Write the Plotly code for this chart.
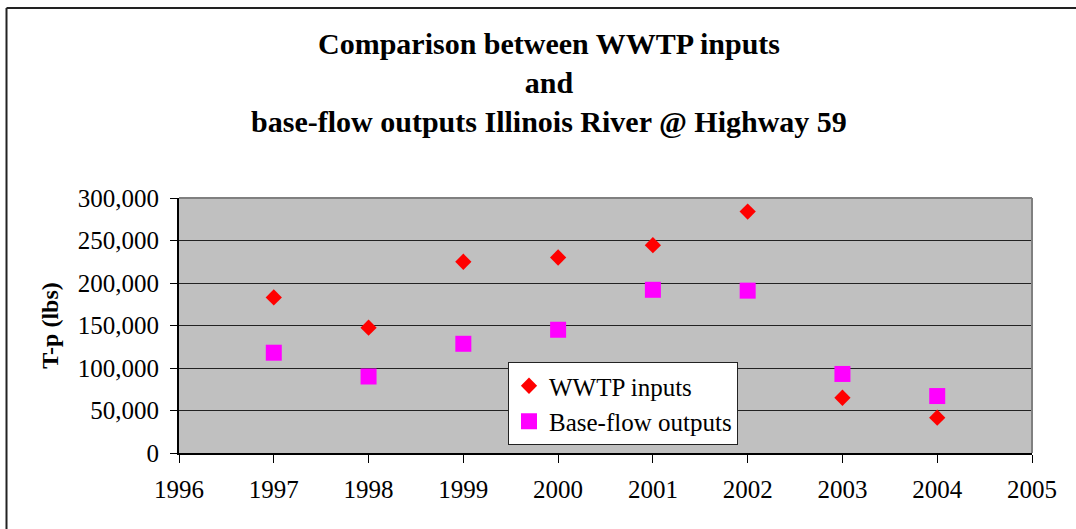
import plotly.graph_objects as go

years = [1997, 1998, 1999, 2000, 2001, 2002, 2003, 2004]
wwtp_inputs = [183000, 147500, 225000, 230000, 244500, 284000, 65000, 41500]
baseflow_outputs = [118000, 90000, 128500, 145000, 192000, 191000, 93000, 67000]
x_ticks = list(range(1996, 2006))
y_ticks = [0, 50000, 100000, 150000, 200000, 250000, 300000]
y_tick_labels = ["0", "50,000", "100,000", "150,000", "200,000", "250,000", "300,000"]

W, H = 1076, 529
L, R, T, B = 179, 1032, 198, 453

FONT = "Liberation Serif, Times New Roman, serif"

fig = go.Figure()
fig.add_trace(go.Scatter(
    x=years, y=wwtp_inputs, mode="markers", name="WWTP inputs",
    marker=dict(symbol="diamond", size=12.5, color="#FF0000", line=dict(width=0)),
))
fig.add_trace(go.Scatter(
    x=years, y=baseflow_outputs, mode="markers", name="Base-flow outputs",
    marker=dict(symbol="square", size=16, color="#FF00FF", line=dict(width=0)),
))

def px_x(p):
    return (p - L) / (R - L)

def px_y(p):
    return (B - p) / (B - T)

# outer chart-area border (top and left visible)
fig.add_shape(type="line", xref="paper", yref="paper",
              x0=px_x(6.5), x1=px_x(1080), y0=px_y(8), y1=px_y(8),
              line=dict(color="#222222", width=2), layer="above")
fig.add_shape(type="line", xref="paper", yref="paper",
              x0=px_x(6.5), x1=px_x(6.5), y0=px_y(8), y1=px_y(535),
              line=dict(color="#222222", width=2), layer="above")
# plot area gray border (top and right)
fig.add_shape(type="line", xref="paper", yref="paper",
              x0=0, x1=1, y0=1, y1=1,
              line=dict(color="#808080", width=2), layer="above")
fig.add_shape(type="line", xref="paper", yref="paper",
              x0=1, x1=1, y0=0, y1=1,
              line=dict(color="#808080", width=2), layer="above")

fig.update_layout(
    width=W, height=H, autosize=False,
    margin=dict(l=L, r=W - R, t=T, b=H - B, pad=0),
    paper_bgcolor="white",
    plot_bgcolor="#C0C0C0",
    font=dict(family=FONT, size=24, color="black"),
    title=dict(
        text="<b>Comparison between WWTP inputs<br>and<br>base-flow outputs Illinois River @ Highway 59</b>",
        x=549 / W, xref="container", xanchor="center",
        y=1 - 54 / H, yref="container", yanchor="top",
        font=dict(family=FONT, size=30, color="black"),
    ),
    showlegend=True,
    legend=dict(
        x=px_x(508), y=px_y(362), xanchor="left", yanchor="top",
        bgcolor="white", bordercolor="#222222", borderwidth=1,
        font=dict(family=FONT, size=25, color="black"),
        itemwidth=30, tracegroupgap=0,
    ),
    xaxis=dict(
        range=[1996, 2005], tickmode="array", tickvals=x_ticks,
        ticks="outside", ticklen=8, tickcolor="black", tickwidth=1,
        showline=True, linecolor="black", linewidth=2,
        showgrid=False, zeroline=False,
        ticklabelstandoff=5,
        tickfont=dict(family=FONT, size=25, color="black"),
    ),
    yaxis=dict(
        range=[0, 300000], tickmode="array", tickvals=y_ticks, ticktext=y_tick_labels,
        ticks="outside", ticklen=7, tickcolor="black", tickwidth=1,
        showline=True, linecolor="black", linewidth=2,
        showgrid=True, gridcolor="#222222", gridwidth=1,
        zeroline=False,
        ticklabelstandoff=6,
        tickfont=dict(family=FONT, size=25, color="black"),
        title=dict(text="<b>T-p (lbs)</b>", font=dict(family=FONT, size=24, color="black"), standoff=12),
    ),
)

fig.write_html(
    "out.html",
    config={"displayModeBar": False},
    post_script="document.body.style.margin='0';document.body.style.overflow='hidden';",
)
